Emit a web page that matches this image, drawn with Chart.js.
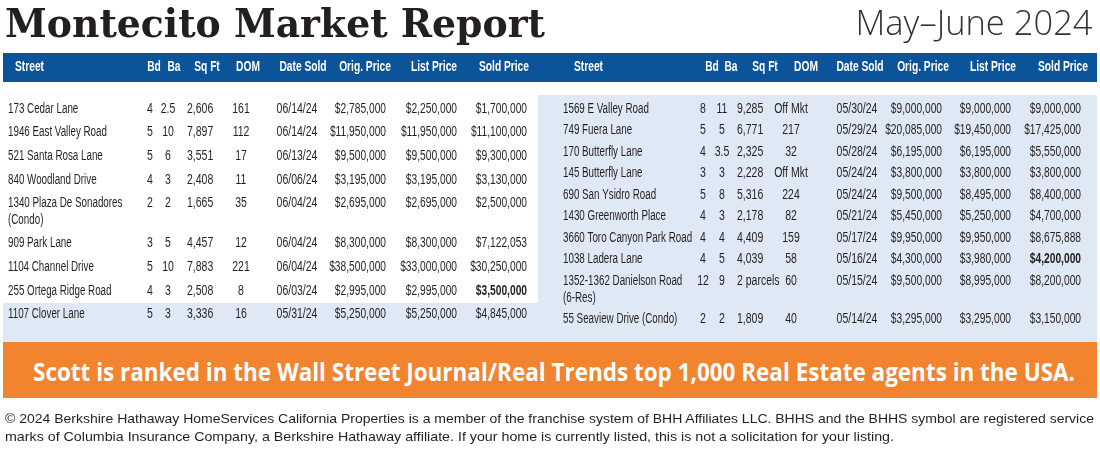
<!DOCTYPE html>
<html>
<head>
<meta charset="utf-8">
<script src="https://cdn.jsdelivr.net/npm/chart.js@4.4.1/dist/chart.umd.min.js"></script>
<style>
	html, body { margin: 0; padding: 0; background: #fff; }
	#wrap { position: relative; width: 1100px; height: 450px; overflow: hidden; }
	#table { position: absolute; left: 0; top: 0; }
	.txt { position: absolute; white-space: nowrap; display: inline-block; color: #231f20; }
	#title { left: 5px; top: 3px; font: bold 40px/40px 'DejaVu Serif', serif; transform-origin: left top; }
	#period { right: 7px; top: 4px; font: 300 35px/35px 'Open Sans', sans-serif; color: #333; transform-origin: right top; }
	#banner { position: absolute; left: 3px; top: 342px; width: 1094px; height: 56px; background: #f2832f; }
	#bannerText { left: 30px; top: 17px; font: 700 25px/25px 'Open Sans', sans-serif; color: #fff; transform-origin: left top; }
	.foot { left: 5px; font: 13.5px/13.5px 'Liberation Sans', sans-serif; transform-origin: left top; }
	#foot1 { top: 412px; }
	#foot2 { top: 430px; }
</style>
</head>
<body>
<div id="wrap">
	<canvas id="table" width="1100" height="450"></canvas>
	<div id="title" class="txt">Montecito Market Report</div>
	<div id="period" class="txt">May–June 2024</div>
	<div id="banner"><span id="bannerText" class="txt">Scott is ranked in the Wall Street Journal/Real Trends top 1,000 Real Estate agents in the USA.</span></div>
	<div id="foot1" class="txt foot">© 2024 Berkshire Hathaway HomeServices California Properties is a member of the franchise system of BHH Affiliates LLC. BHHS and the BHHS symbol are registered service</div>
	<div id="foot2" class="txt foot">marks of Columbia Insurance Company, a Berkshire Hathaway affiliate. If your home is currently listed, this is not a solicitation for your listing.</div>
</div>
<script>
// Column headers (same for both halves)
const headers = ['Street', 'Bd', 'Ba', 'Sq Ft', 'DOM', 'Date Sold', 'Orig. Price', 'List Price', 'Sold Price'];

// Left half - June sales
const streetsLeft = ['173 Cedar Lane', '1946 East Valley Road', '521 Santa Rosa Lane', '840 Woodland Drive', ['1340 Plaza De Sonadores', '(Condo)'], '909 Park Lane', '1104 Channel Drive', '255 Ortega Ridge Road', '1107 Clover Lane'];
const bedsLeft = [4, 5, 5, 4, 2, 3, 5, 4, 5];
const bathsLeft = [2.5, 10, 6, 3, 2, 5, 10, 3, 3];
const sqftLeft = [2606, 7897, 3551, 2408, 1665, 4457, 7883, 2508, 3336];
const domLeft = [161, 112, 17, 11, 35, 12, 221, 8, 16];
const dateLeft = ['06/14/24', '06/14/24', '06/13/24', '06/06/24', '06/04/24', '06/04/24', '06/04/24', '06/03/24', '05/31/24'];
const origLeft = [2785000, 11950000, 9500000, 3195000, 2695000, 8300000, 38500000, 2995000, 5250000];
const listLeft = [2250000, 11950000, 9500000, 3195000, 2695000, 8300000, 33000000, 2995000, 5250000];
const soldLeft = [1700000, 11100000, 9300000, 3130000, 2500000, 7122053, 30250000, 3500000, 4845000];

// Right half - May sales
const streetsRight = ['1569 E Valley Road', '749 Fuera Lane', '170 Butterfly Lane', '145 Butterfly Lane', '690 San Ysidro Road', '1430 Greenworth Place', '3660 Toro Canyon Park Road', '1038 Ladera Lane', ['1352-1362 Danielson Road', '(6-Res)'], '55 Seaview Drive (Condo)'];
const bedsRight = [8, 5, 4, 3, 5, 4, 4, 4, 12, 2];
const bathsRight = [11, 5, 3.5, 3, 8, 3, 4, 5, 9, 2];
const sqftRight = [9285, 6771, 2325, 2228, 5316, 2178, 4409, 4039, '2 parcels', 1809];
const domRight = ['Off Mkt', 217, 32, 'Off Mkt', 224, 82, 159, 58, 60, 40];
const dateRight = ['05/30/24', '05/29/24', '05/28/24', '05/24/24', '05/24/24', '05/21/24', '05/17/24', '05/16/24', '05/15/24', '05/14/24'];
const origRight = [9000000, 20085000, 6195000, 3800000, 9500000, 5450000, 9950000, 4300000, 9500000, 3295000];
const listRight = [9000000, 19450000, 6195000, 3800000, 8495000, 5250000, 9950000, 3980000, 8995000, 3295000];
const soldRight = [9000000, 17425000, 5550000, 3800000, 8400000, 4700000, 8675888, 4200000, 8200000, 3150000];

// Layout - column anchors in px (value / header), rows start + pitch
const colAlign = ['left', 'center', 'center', 'left', 'center', 'center', 'right', 'right', 'right'];
const colSqueeze = [0.70, 0.75, 0.75, 0.75, 0.75, 0.75, 0.73, 0.73, 0.73];  // condensed look per column
const leftLayout = {
	valueX: [8, 150, 168, 187, 241, 297, 386, 457, 527],
	headerX: [15, 154, 174, 207, 248, 303, 365, 434, 504],
	firstY: 109, pitch: 23.6, wrap: 16.5
};
const rightLayout = {
	valueX: [563, 703, 722, 737, 791, 857, 942, 1011, 1081],
	headerX: [574, 712, 731, 765, 806, 860, 923, 993, 1063],
	firstY: 109, pitch: 21.5, wrap: 17
};
const headerY = 67;

const BLUE = '#0c5499';
const LIGHT = '#dfe9f5';
const INK = '#231f20';

const fmtNum = v => typeof v === 'number' ? v.toLocaleString('en-US') : v;
const fmtUsd = v => '$' + v.toLocaleString('en-US');

// One point per cell, positioned via the chart's linear scales
function buildCells(t, lay) {
	const pts = [];
	let y = lay.firstY;
	t.streets.forEach((street, i) => {
		const lines = [].concat(street);
		const row = [lines[0], String(t.beds[i]), String(t.baths[i]), fmtNum(t.sqft[i]), String(t.dom[i]),
			t.date[i], fmtUsd(t.orig[i]), fmtUsd(t.list[i]), fmtUsd(t.sold[i])];
		row.forEach((txt, c) => pts.push({ x: lay.valueX[c], y: y, t: txt, c: c, bold: c === 8 && t.sold[i] > t.list[i] }));
		lines.slice(1).forEach((ln, k) => pts.push({ x: lay.valueX[0], y: y + lay.wrap * (k + 1), t: ln, c: 0 }));
		y += lay.pitch + lay.wrap * (lines.length - 1);
	});
	return pts;
}
function buildHeader(lay) {
	return headers.map((h, c) => ({ x: lay.headerX[c], y: headerY, t: h, c: c }));
}

const cellsLeft = buildCells({ streets: streetsLeft, beds: bedsLeft, baths: bathsLeft, sqft: sqftLeft, dom: domLeft, date: dateLeft, orig: origLeft, list: listLeft, sold: soldLeft }, leftLayout);
const cellsRight = buildCells({ streets: streetsRight, beds: bedsRight, baths: bathsRight, sqft: sqftRight, dom: domRight, date: dateRight, orig: origRight, list: listRight, sold: soldRight }, rightLayout);

// Background panels (x0, y0, x1, y1)
const panels = [
	{ r: [3, 53, 1097, 82], color: BLUE },     // header bar
	{ r: [538, 95, 1097, 342], color: LIGHT }, // May panel
	{ r: [3, 303, 538, 342], color: LIGHT }    // last June row
];

const panelPlugin = {
	id: 'panels',
	beforeDatasetsDraw(chart) {
		const { ctx, scales: { x, y } } = chart;
		ctx.save();
		panels.forEach(p => {
			const x0 = x.getPixelForValue(p.r[0]), y0 = y.getPixelForValue(p.r[1]);
			const x1 = x.getPixelForValue(p.r[2]), y1 = y.getPixelForValue(p.r[3]);
			ctx.fillStyle = p.color;
			ctx.fillRect(x0, y0, x1 - x0, y1 - y0);
		});
		ctx.restore();
	}
};

const cellPlugin = {
	id: 'cells',
	afterDatasetsDraw(chart) {
		const ctx = chart.ctx;
		chart.data.datasets.forEach((ds, i) => {
			const meta = chart.getDatasetMeta(i);
			const head = ds.isHeader;
			meta.data.forEach((el, j) => {
				const raw = ds.data[j];
				const align = head ? (raw.c === 0 ? 'left' : 'center') : colAlign[raw.c];
				ctx.save();
				ctx.translate(el.x, el.y);
				ctx.scale(head ? 0.73 : colSqueeze[raw.c], 1);
				ctx.font = (head || raw.bold ? 'bold ' : '') + "14px 'Liberation Sans', sans-serif";
				ctx.fillStyle = head ? '#fff' : INK;
				ctx.textAlign = align;
				ctx.textBaseline = 'middle';
				ctx.fillText(raw.t, 0, 0);
				ctx.restore();
			});
		});
	}
};

const pointStyle = { showLine: false, pointRadius: 0, pointHoverRadius: 0 };

new Chart(document.getElementById('table'), {
	type: 'scatter',
	data: {
		datasets: [
			Object.assign({ label: 'Header June', data: buildHeader(leftLayout), isHeader: true }, pointStyle),
			Object.assign({ label: 'Header May', data: buildHeader(rightLayout), isHeader: true }, pointStyle),
			Object.assign({ label: 'June', data: cellsLeft }, pointStyle),
			Object.assign({ label: 'May', data: cellsRight }, pointStyle)
		]
	},
	options: {
		responsive: false,
		animation: false,
		events: [],
		layout: { padding: 0 },
		plugins: { legend: { display: false }, tooltip: { enabled: false } },
		scales: {
			x: { type: 'linear', min: 0, max: 1100, display: false },
			y: { type: 'linear', min: 0, max: 450, reverse: true, display: false }
		}
	},
	plugins: [panelPlugin, cellPlugin]
});

// Squeeze HTML text lines to the widths they take in the print layout
function fit(id, w) {
	const el = document.getElementById(id);
	const nat = el.getBoundingClientRect().width;
	el.style.transform = 'scaleX(' + (w / nat) + ')';
}
fit('title', 540);
fit('period', 237);
fit('bannerText', 1042);
fit('foot1', 1089);
fit('foot2', 889);
</script>
</body>
</html>
